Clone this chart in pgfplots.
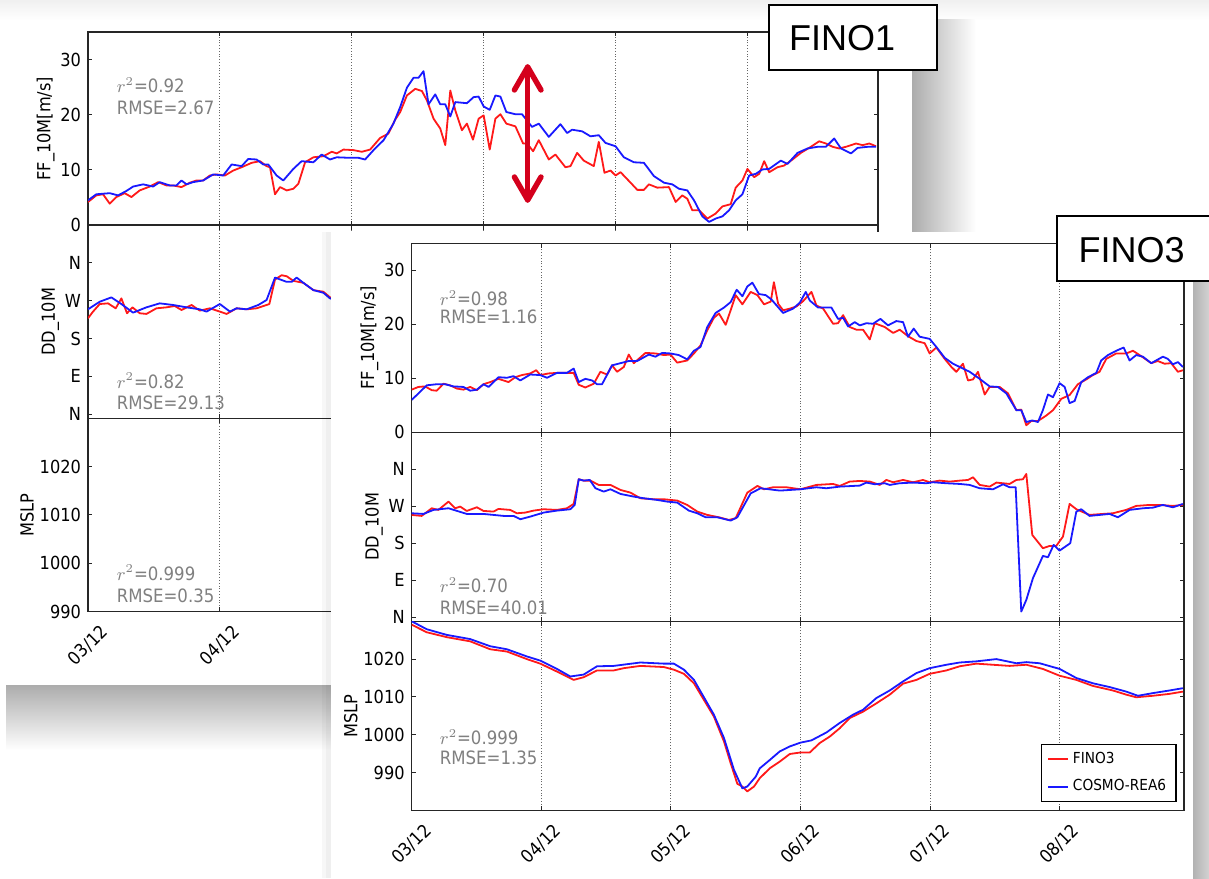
\documentclass[border=0pt]{standalone}
\usepackage{pgfplots}
\pgfplotsset{compat=1.18}
\usepackage{fontspec}
\setmainfont{DejaVu Sans}[FakeStretch=0.9]
\newfontfamily\arialfont{Liberation Sans}
\definecolor{arrowred}{RGB}{212,0,28}
\definecolor{mplred}{RGB}{255,25,25}
\definecolor{mplblue}{RGB}{25,25,255}
\tikzset{stat/.style={text=gray, anchor=west, font=\fontsize{9.2}{10}\selectfont, inner sep=0pt}}
\pgfplotsset{
 mpl/.style={
  scale only axis,
  anchor=north west,
  xmin=0,
  axis line style={line width=0.7pt, black!85},
  tick align=inside,
  xtick pos=both, ytick pos=both,
  major tick length=2.2pt,
  tick style={line width=0.5pt, black!85},
  xtick={0,1,2,3,4,5},
  xmajorgrids,
  major grid style={densely dotted, black!60, line width=0.45pt},
  tick label style={font=\fontsize{9}{10}\selectfont},
  label style={font=\fontsize{9}{10}\selectfont},
  ylabel shift=-4pt,
  /pgf/number format/assume math mode=true,
  /pgf/number format/1000 sep={},
  every axis plot/.append style={line width=0.9pt, line join=round, mark=none},
 },
 ffax/.style={mpl, ymin=0, ymax=35, ytick={0,10,20,30}, ylabel={FF\_10M[m/s]}, xticklabels={}},
 ddax/.style={mpl, ymin=-10, ymax=450, ytick={0,90,180,270,360}, yticklabels={N,E,S,W,N}, ylabel={DD\_10M}, xticklabels={}},
 mslpax/.style={mpl, ytick={990,1000,1010,1020}, ylabel={MSLP},
   xticklabels={03/12,04/12,05/12,06/12,07/12,08/12},
   xticklabel style={yshift=-17pt, rotate=45, anchor=center}},
}
\begin{document}
\begin{tikzpicture}
\path[use as bounding box] (0pt,0pt) rectangle (604.5pt,439pt);
\fill[white] (0pt,0pt) rectangle (604.5pt,439pt);
\shade[top color=gray!12, bottom color=white] (0pt,439pt) rectangle (604.5pt,429pt);
% back panel shadows
\shade[top color=gray!65, bottom color=white] (3pt,96.5pt) rectangle (456pt,64pt);
\shade[left color=gray!65, right color=white] (456pt,429pt) rectangle (488pt,96.5pt);
\fill[white] (3pt,429pt) rectangle (456pt,96.5pt);

% ===== FINO1 =====
\begin{axis}[ffax, at={(44pt,423pt)}, width=395pt, height=96.6pt, xmax=5.99]
\addplot[mplred] coordinates {(0.000,4.2)(0.063,5.4)(0.114,5.6)(0.165,3.9)(0.215,5.1)(0.278,5.8)(0.329,5.1)(0.392,6.3)(0.468,7.0)(0.532,7.8)(0.595,7.2)(0.646,7.2)(0.709,6.9)(0.772,7.7)(0.823,8.1)(0.873,8.1)(0.924,9.0)(0.975,9.2)(1.038,9.0)(1.101,9.9)(1.165,10.5)(1.241,11.3)(1.304,11.6)(1.354,10.7)(1.380,10.5)(1.418,5.6)(1.456,6.9)(1.506,6.3)(1.557,6.6)(1.595,7.5)(1.646,11.4)(1.709,12.3)(1.785,12.5)(1.848,13.3)(1.886,13.0)(1.937,13.7)(2.013,13.6)(2.076,13.3)(2.139,13.7)(2.215,15.8)(2.278,16.6)(2.329,19.1)(2.367,20.5)(2.418,23.5)(2.481,24.7)(2.532,24.3)(2.570,22.6)(2.620,19.3)(2.671,17.5)(2.709,14.5)(2.747,24.4)(2.785,20.8)(2.835,17.2)(2.873,18.4)(2.919,15.5)(2.962,19.3)(3.000,19.9)(3.046,13.7)(3.089,19.3)(3.127,20.1)(3.172,18.4)(3.241,17.9)(3.299,14.8)(3.329,14.8)(3.375,13.4)(3.418,15.4)(3.494,11.9)(3.544,12.8)(3.620,10.5)(3.658,10.7)(3.709,13.1)(3.759,11.7)(3.835,10.7)(3.873,15.1)(3.916,9.5)(3.962,9.9)(4.000,9.0)(4.038,9.6)(4.114,7.7)(4.165,6.4)(4.215,6.4)(4.253,7.4)(4.316,6.8)(4.405,6.9)(4.456,4.2)(4.506,5.4)(4.544,4.8)(4.582,2.7)(4.633,2.7)(4.696,1.2)(4.759,2.1)(4.810,3.4)(4.873,3.8)(4.911,6.8)(4.962,8.1)(5.000,10.2)(5.051,8.7)(5.089,9.3)(5.127,11.6)(5.165,9.6)(5.228,10.5)(5.278,10.8)(5.342,11.9)(5.405,13.1)(5.481,14.2)(5.544,15.2)(5.595,14.8)(5.646,14.2)(5.696,13.9)(5.747,14.2)(5.823,14.8)(5.873,14.5)(5.924,14.8)(5.975,14.3)};
\addplot[mplblue] coordinates {(0.000,4.5)(0.063,5.6)(0.165,5.8)(0.228,5.4)(0.291,6.2)(0.342,7.0)(0.418,7.4)(0.494,7.0)(0.544,7.8)(0.620,7.2)(0.671,7.2)(0.709,8.1)(0.747,7.4)(0.797,7.8)(0.873,8.1)(0.949,9.2)(1.025,9.0)(1.089,11.0)(1.165,10.7)(1.215,12.0)(1.278,11.9)(1.329,11.0)(1.367,11.0)(1.430,9.0)(1.481,8.1)(1.557,10.2)(1.620,11.6)(1.709,11.4)(1.772,12.8)(1.835,11.9)(1.886,12.3)(1.987,12.2)(2.051,12.2)(2.101,11.9)(2.165,13.6)(2.241,15.4)(2.316,18.4)(2.367,21.4)(2.418,24.9)(2.468,26.7)(2.506,26.7)(2.544,27.9)(2.582,21.9)(2.633,23.7)(2.671,21.9)(2.709,21.9)(2.747,19.7)(2.785,22.3)(2.873,22.1)(2.924,23.2)(2.962,23.3)(3.000,21.5)(3.046,20.9)(3.089,23.5)(3.127,23.3)(3.172,20.5)(3.241,20.1)(3.291,20.1)(3.367,17.8)(3.418,18.4)(3.494,16.0)(3.582,18.3)(3.633,16.7)(3.671,17.3)(3.747,17.0)(3.810,16.1)(3.873,16.3)(3.924,14.9)(4.000,14.3)(4.063,12.3)(4.139,11.4)(4.215,11.3)(4.291,8.9)(4.367,7.7)(4.430,7.4)(4.481,6.6)(4.544,6.3)(4.595,4.5)(4.658,1.6)(4.709,0.6)(4.759,1.2)(4.810,1.6)(4.861,2.7)(4.911,4.5)(4.962,5.6)(5.013,9.0)(5.063,9.3)(5.114,10.1)(5.165,10.2)(5.253,11.7)(5.304,11.1)(5.380,13.1)(5.456,13.9)(5.532,14.2)(5.595,14.2)(5.658,15.7)(5.709,13.9)(5.785,13.0)(5.835,14.0)(5.911,14.2)(5.975,14.2)};
\node[stat] at (rel axis cs:0.036,0.725) {$r^2$=0.92};
\node[stat] at (rel axis cs:0.036,0.61) {RMSE=2.67};
\end{axis}

\begin{axis}[ddax, at={(44pt,326.4pt)}, width=395pt, height=96.6pt, xmax=5.99]
\addplot[mplred] coordinates {(0.000,228.4)(0.038,244.2)(0.089,262.3)(0.152,263.9)(0.210,252.1)(0.253,275.7)(0.296,240.3)(0.337,254.4)(0.392,240.3)(0.443,238.7)(0.519,252.1)(0.595,254.4)(0.658,257.6)(0.709,248.1)(0.785,260.0)(0.848,246.6)(0.924,252.1)(1.000,244.2)(1.051,238.7)(1.127,252.1)(1.203,249.7)(1.278,252.1)(1.375,262.3)(1.418,320.6)(1.468,330.9)(1.506,328.5)(1.557,317.5)(1.633,312.7)(1.709,295.4)(1.785,291.5)(1.835,278.1)(1.880,274.0)};
\addplot[mplblue] coordinates {(0.000,249.7)(0.089,267.8)(0.177,278.1)(0.253,262.3)(0.342,241.8)(0.443,254.4)(0.544,263.9)(0.646,260.0)(0.747,254.4)(0.848,249.7)(0.899,244.2)(1.000,262.3)(1.076,244.2)(1.127,252.1)(1.203,249.7)(1.291,260.0)(1.354,271.8)(1.418,325.3)(1.506,315.1)(1.544,315.1)(1.582,325.3)(1.633,312.7)(1.709,295.4)(1.785,289.1)(1.835,275.7)(1.880,272.0)};
\node[stat] at (rel axis cs:0.036,0.195) {$r^2$=0.82};
\node[stat] at (rel axis cs:0.036,0.08) {RMSE=29.13};
\end{axis}

\begin{axis}[mslpax, at={(44pt,229.8pt)}, width=395pt, height=96.6pt, xmax=5.99, ymin=990, ymax=1030]
\node[stat] at (rel axis cs:0.036,0.2) {$r^2$=0.999};
\node[stat] at (rel axis cs:0.036,0.083) {RMSE=0.35};
\end{axis}

% red arrow
\draw[arrowred, line width=2.7pt, line cap=round, line join=round] (263.85pt,405.5pt) -- (263.85pt,339pt);
\draw[arrowred, line width=2.7pt, line cap=round, line join=round] (257.2pt,394pt) -- (263.85pt,405.5pt) -- (270.5pt,394pt);
\draw[arrowred, line width=2.7pt, line cap=round, line join=round] (257.2pt,350.5pt) -- (263.85pt,339pt) -- (270.5pt,350.5pt);

% FINO1 label
\draw[fill=white, line width=0.8pt] (384.5pt,436.5pt) rectangle (468.5pt,404pt);
\node[font=\arialfont\fontsize{18}{20}\selectfont, inner sep=0pt] at (421pt,420pt) {FINO1};

% front panel shadows and background
\fill[black, opacity=0.03] (161pt,323pt) rectangle (165.5pt,0pt);
\fill[black, opacity=0.03] (163pt,323pt) rectangle (165.5pt,0pt);
\shade[left color=gray!60, right color=gray!35] (596.5pt,298pt) rectangle (604.5pt,0pt);
\fill[white] (165.5pt,323pt) rectangle (596.5pt,0pt);

% ===== FINO3 =====
\begin{axis}[ffax, at={(205.85pt,317.35pt)}, width=386.15pt, height=94.5pt, xmax=5.96]
\addplot[mplred] coordinates {(0.000,7.9)(0.052,8.4)(0.103,8.5)(0.155,7.8)(0.193,7.7)(0.245,9.0)(0.296,8.7)(0.348,8.1)(0.399,7.9)(0.451,8.4)(0.503,7.8)(0.554,8.9)(0.606,9.3)(0.670,9.9)(0.747,9.3)(0.799,10.2)(0.851,10.6)(0.915,10.9)(0.961,11.5)(0.992,10.6)(1.057,10.9)(1.121,11.0)(1.173,11.0)(1.250,11.0)(1.289,8.8)(1.340,8.3)(1.405,9.0)(1.456,11.2)(1.508,10.7)(1.546,12.4)(1.585,11.2)(1.637,12.1)(1.675,14.4)(1.714,12.8)(1.804,14.7)(1.881,14.6)(1.946,14.3)(1.997,14.4)(2.049,12.9)(2.126,13.3)(2.178,14.6)(2.229,16.1)(2.281,18.9)(2.332,21.2)(2.371,22.0)(2.423,19.9)(2.474,23.5)(2.500,25.4)(2.552,23.7)(2.616,26.0)(2.668,25.4)(2.719,23.7)(2.771,24.2)(2.795,27.8)(2.828,23.8)(2.866,22.6)(2.918,22.9)(2.969,23.3)(3.021,24.3)(3.085,26.0)(3.123,23.5)(3.175,22.9)(3.252,20.1)(3.290,20.2)(3.329,21.7)(3.380,19.5)(3.432,19.0)(3.483,19.0)(3.535,17.2)(3.573,20.2)(3.650,19.5)(3.715,18.4)(3.766,19.0)(3.830,17.8)(3.895,16.9)(3.959,16.5)(3.997,14.6)(4.049,15.7)(4.113,13.6)(4.165,12.1)(4.203,11.2)(4.254,12.7)(4.293,9.6)(4.332,9.8)(4.370,11.2)(4.422,7.0)(4.460,8.4)(4.537,8.4)(4.602,7.2)(4.666,4.1)(4.704,4.2)(4.743,1.3)(4.781,2.1)(4.833,2.1)(4.897,3.1)(4.949,4.1)(5.013,6.2)(5.077,6.9)(5.141,8.9)(5.206,9.8)(5.257,10.6)(5.308,11.2)(5.360,13.6)(5.437,14.6)(5.514,14.6)(5.566,15.1)(5.630,14.1)(5.707,12.8)(5.758,13.2)(5.810,12.7)(5.861,12.8)(5.913,11.2)(5.951,11.5)};
\addplot[mplblue] coordinates {(0.000,6.0)(0.052,7.2)(0.116,8.7)(0.193,8.9)(0.258,8.9)(0.322,8.5)(0.399,8.4)(0.451,7.7)(0.503,7.9)(0.554,8.9)(0.593,8.4)(0.670,10.2)(0.735,10.1)(0.786,10.4)(0.838,9.6)(0.915,10.7)(0.992,10.6)(1.044,10.1)(1.121,11.0)(1.198,11.0)(1.250,11.8)(1.289,9.3)(1.340,9.9)(1.392,9.6)(1.430,8.9)(1.469,8.9)(1.546,12.4)(1.611,12.8)(1.675,13.2)(1.740,13.2)(1.830,14.4)(1.881,14.0)(1.933,14.7)(1.997,14.6)(2.062,14.3)(2.126,13.5)(2.178,15.1)(2.229,15.8)(2.281,19.5)(2.345,22.1)(2.410,23.1)(2.461,24.1)(2.508,26.4)(2.552,25.2)(2.590,27.0)(2.629,27.7)(2.680,25.6)(2.732,25.4)(2.776,24.6)(2.866,22.1)(2.943,22.9)(2.995,24.0)(3.041,26.0)(3.072,24.4)(3.136,23.1)(3.239,23.1)(3.290,21.0)(3.329,21.2)(3.368,19.6)(3.419,20.4)(3.458,19.8)(3.509,20.2)(3.560,20.1)(3.617,21.0)(3.676,19.8)(3.740,20.6)(3.792,20.4)(3.830,17.7)(3.874,19.2)(3.920,17.7)(3.997,17.3)(4.049,15.8)(4.113,13.8)(4.177,12.7)(4.229,12.1)(4.306,11.2)(4.383,9.9)(4.460,8.5)(4.524,8.4)(4.589,7.2)(4.666,4.1)(4.704,4.1)(4.743,1.9)(4.789,2.2)(4.833,1.9)(4.871,4.1)(4.910,7.0)(4.949,6.5)(5.000,9.1)(5.039,8.4)(5.077,5.4)(5.116,5.8)(5.167,9.3)(5.219,10.2)(5.283,11.0)(5.321,13.3)(5.373,14.3)(5.437,15.1)(5.494,15.7)(5.540,13.3)(5.591,14.3)(5.643,14.0)(5.707,12.8)(5.797,14.0)(5.835,13.6)(5.874,12.6)(5.913,13.0)(5.951,12.1)};
\node[stat] at (rel axis cs:0.036,0.71) {$r^2$=0.98};
\node[stat] at (rel axis cs:0.036,0.61) {RMSE=1.16};
\end{axis}

\begin{axis}[ddax, at={(205.85pt,222.85pt)}, width=386.15pt, height=94.5pt, xmax=5.96]
\addplot[mplred] coordinates {(0.000,248.9)(0.077,246.5)(0.155,265.1)(0.206,261.1)(0.284,281.3)(0.335,265.1)(0.374,269.2)(0.425,258.6)(0.503,267.5)(0.554,258.6)(0.631,257.0)(0.670,263.5)(0.760,261.1)(0.812,252.9)(0.876,254.6)(0.941,259.4)(1.018,262.7)(1.121,261.1)(1.198,265.1)(1.250,275.7)(1.289,335.7)(1.327,332.4)(1.379,332.4)(1.443,321.9)(1.534,321.9)(1.611,309.7)(1.688,303.2)(1.765,289.4)(1.869,287.0)(1.946,287.0)(2.049,283.8)(2.126,273.2)(2.204,257.0)(2.281,248.9)(2.371,243.2)(2.448,236.7)(2.500,240.8)(2.590,303.2)(2.668,319.4)(2.719,311.3)(2.789,316.2)(2.892,316.2)(3.000,311.3)(3.123,321.9)(3.252,324.3)(3.303,319.4)(3.380,330.0)(3.458,331.6)(3.535,330.0)(3.612,321.9)(3.663,334.0)(3.715,328.4)(3.792,334.0)(3.869,328.4)(3.946,334.0)(3.997,328.4)(4.075,332.4)(4.152,330.0)(4.229,332.4)(4.293,334.0)(4.332,340.5)(4.383,321.9)(4.460,317.8)(4.512,327.6)(4.614,324.3)(4.666,334.0)(4.717,335.7)(4.743,348.6)(4.789,200.2)(4.871,167.8)(4.923,173.5)(4.974,173.5)(5.026,196.2)(5.077,275.7)(5.129,262.7)(5.231,248.9)(5.334,251.3)(5.411,252.9)(5.514,261.1)(5.591,270.8)(5.694,273.2)(5.771,273.2)(5.874,270.8)(5.951,273.2)};
\addplot[mplblue] coordinates {(0.000,252.9)(0.090,251.3)(0.168,261.1)(0.284,265.1)(0.425,251.3)(0.554,251.3)(0.709,246.5)(0.786,246.5)(0.838,238.4)(0.915,244.8)(1.018,254.6)(1.121,259.4)(1.224,262.7)(1.258,273.2)(1.289,335.7)(1.327,332.4)(1.374,334.0)(1.418,313.8)(1.482,305.7)(1.534,311.3)(1.611,300.0)(1.714,293.5)(1.791,289.4)(1.894,285.4)(1.972,281.3)(2.049,278.9)(2.139,259.4)(2.204,252.9)(2.268,243.2)(2.358,243.2)(2.461,235.1)(2.513,243.2)(2.616,301.5)(2.693,313.8)(2.841,308.1)(3.000,311.3)(3.123,316.2)(3.200,313.8)(3.303,317.8)(3.458,320.3)(3.509,327.6)(3.573,323.5)(3.650,326.0)(3.689,321.9)(3.766,326.0)(3.869,327.6)(3.972,326.0)(4.023,328.4)(4.126,326.0)(4.229,324.3)(4.306,321.9)(4.383,313.8)(4.486,311.3)(4.563,323.5)(4.614,316.2)(4.661,316.2)(4.704,13.7)(4.743,42.1)(4.794,94.8)(4.871,149.1)(4.910,145.9)(4.954,175.9)(5.000,162.1)(5.082,180.0)(5.129,257.0)(5.167,262.7)(5.231,246.5)(5.308,248.9)(5.386,251.3)(5.450,243.2)(5.540,261.1)(5.643,265.1)(5.720,266.7)(5.797,273.2)(5.874,267.5)(5.951,275.7)};
\node[stat] at (rel axis cs:0.036,0.19) {$r^2$=0.70};
\node[stat] at (rel axis cs:0.036,0.074) {RMSE=40.01};
\end{axis}

\begin{axis}[mslpax, at={(205.85pt,128.35pt)}, width=386.15pt, height=94.5pt, xmax=5.96, ymin=980, ymax=1030,
  legend style={at={(0.9905,0.042)}, anchor=south east, draw=black, line width=0.6pt,
    font=\fontsize{7.6}{9}\selectfont, inner xsep=3pt, inner ysep=2pt, row sep=2.5pt,
    cells={anchor=west}},
  legend image code/.code={\draw[#1, line width=0.9pt] (0pt,0pt) -- (10pt,0pt);}]
\addplot[mplred] coordinates {(0.000,1029.1)(0.116,1027.1)(0.271,1025.8)(0.451,1024.7)(0.606,1022.6)(0.735,1022.0)(0.889,1020.0)(0.992,1018.8)(1.121,1016.7)(1.250,1014.5)(1.327,1015.2)(1.430,1017.0)(1.559,1017.0)(1.637,1017.6)(1.765,1018.2)(1.946,1017.9)(2.023,1017.2)(2.101,1016.1)(2.178,1013.6)(2.255,1009.2)(2.332,1004.8)(2.410,998.2)(2.461,992.5)(2.513,987.0)(2.552,986.3)(2.590,985.0)(2.642,986.3)(2.686,988.5)(2.763,991.1)(2.841,992.9)(2.918,994.9)(3.000,995.3)(3.072,995.3)(3.149,997.8)(3.226,999.5)(3.303,1001.7)(3.380,1004.4)(3.483,1006.1)(3.586,1008.3)(3.689,1010.6)(3.792,1013.5)(3.895,1014.5)(3.997,1016.1)(4.126,1017.0)(4.229,1018.1)(4.357,1018.8)(4.486,1018.5)(4.614,1018.2)(4.743,1018.5)(4.871,1017.4)(5.000,1015.6)(5.129,1014.5)(5.257,1012.9)(5.411,1011.7)(5.514,1010.6)(5.591,1009.9)(5.720,1010.3)(5.848,1010.8)(5.951,1011.4)};
\addlegendentry{FINO3}
\addplot[mplblue] coordinates {(0.000,1030.0)(0.116,1027.9)(0.271,1026.4)(0.451,1025.3)(0.606,1023.4)(0.735,1022.6)(0.889,1020.7)(0.992,1019.6)(1.121,1017.4)(1.224,1015.4)(1.327,1015.9)(1.430,1018.1)(1.559,1018.2)(1.765,1019.1)(1.946,1018.8)(2.023,1018.8)(2.101,1017.2)(2.178,1014.5)(2.255,1009.9)(2.332,1005.3)(2.410,999.1)(2.487,990.7)(2.552,985.8)(2.590,986.3)(2.655,988.9)(2.686,991.1)(2.763,993.3)(2.841,995.6)(2.918,996.9)(3.000,997.9)(3.085,998.5)(3.201,1000.6)(3.303,1003.1)(3.406,1005.3)(3.483,1006.6)(3.586,1009.7)(3.689,1011.7)(3.792,1014.1)(3.895,1016.3)(3.997,1017.6)(4.126,1018.5)(4.229,1019.1)(4.357,1019.4)(4.512,1020.0)(4.666,1018.9)(4.743,1019.2)(4.846,1018.9)(5.000,1017.4)(5.129,1015.0)(5.257,1013.6)(5.386,1012.6)(5.514,1011.4)(5.604,1010.3)(5.720,1011.0)(5.848,1011.7)(5.951,1012.3)};
\addlegendentry{COSMO-REA6}
\node[stat] at (rel axis cs:0.036,0.386) {$r^2$=0.999};
\node[stat] at (rel axis cs:0.036,0.279) {RMSE=1.35};
\end{axis}

% FINO3 label (box runs off the right edge)
\draw[fill=white, line width=0.8pt] (528.5pt,331pt) rectangle (610pt,298.5pt);
\node[font=\arialfont\fontsize{18}{20}\selectfont, inner sep=0pt] at (565.75pt,314pt) {FINO3};
\end{tikzpicture}
\end{document}
